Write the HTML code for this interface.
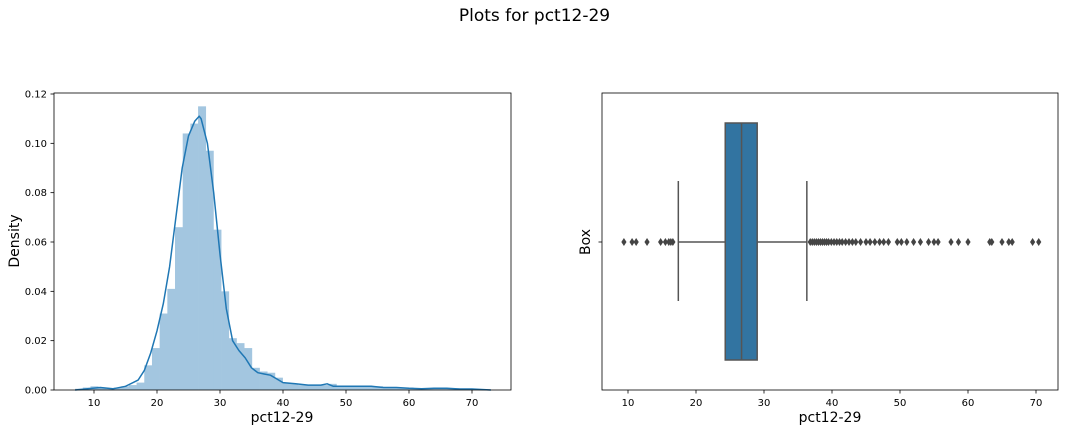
<!DOCTYPE html>
<html><head><meta charset="utf-8"><style>
body{margin:0;background:#fff;}
svg{display:block;font-family:"DejaVu Sans","Liberation Sans",sans-serif;}
</style></head><body>
<svg id="c" width="1069" height="432"></svg>
<script>
const histStart = 7.0, histWidth = 1.22;
const histValues = [0.0005,0.001,0.0015,0.001,0.0005,0.001,0.0015,0.002,0.003,0.010,0.017,0.031,0.041,0.066,0.104,0.108,0.115,0.097,0.065,0.040,0.021,0.019,0.017,0.009,0.0075,0.007,0.005,0.003,0.0025,0.002,0.002,0.002,0.002,0.0025,0.0015,0.0015,0.0015,0.0015,0.0015,0.0015,0.0012,0.001,0.001,0.001,0.0008,0.0005,0.0007,0.0007,0.0008,0.0007,0.0004,0.0004,0.0004,0.0003];
const kdeX = [7,9,11,13,15,17,18,19,20,21,22,23,24,25,26,26.7,27,28,29,30,31,32,33,34,35,36,37,38,39,40,42,44,46,47,48,50,52,54,56,58,60,62,64,66,68,70,73];
const kdeY = [0,0.0005,0.001,0.0005,0.0015,0.004,0.008,0.015,0.024,0.035,0.05,0.07,0.09,0.103,0.109,0.111,0.110,0.1,0.08,0.055,0.033,0.02,0.016,0.013,0.009,0.007,0.0065,0.006,0.0045,0.003,0.0025,0.002,0.002,0.0025,0.0015,0.0015,0.0015,0.0015,0.001,0.001,0.0007,0.0005,0.0007,0.0007,0.0004,0.0004,0];
const leftXTicks = [10,20,30,40,50,60,70];
const leftYTicks = [0,0.02,0.04,0.06,0.08,0.10,0.12];
const leftYLabels = ["0.00","0.02","0.04","0.06","0.08","0.10","0.12"];
const boxStats = [17.4, 24.3, 26.7, 29.0, 36.3];
const outliers = [9.4,10.6,11.2,12.8,14.8,15.5,16.0,16.3,16.6,36.8,37.1,37.4,37.7,38.0,38.3,38.6,38.9,39.2,39.5,39.9,40.3,40.7,41.1,41.5,42.0,42.5,43.0,43.5,44.2,45.0,45.6,46.3,47.0,47.6,48.3,49.6,50.2,51.0,52.0,53.0,54.2,55.0,55.6,57.5,58.6,60.0,63.2,63.5,65.0,66.0,66.5,69.5,70.4];
const rightXTicks = [10,20,30,40,50,60,70];

const svg = document.getElementById('c');
const NS = 'http://www.w3.org/2000/svg';
function mk(tag, attrs, parent){const e=document.createElementNS(NS,tag);for(const k in attrs)e.setAttribute(k,attrs[k]);(parent||svg).appendChild(e);return e;}

let t = mk('text',{x:534.5,y:21,'text-anchor':'middle','font-size':17,fill:'#000'});
t.textContent='Plots for pct12-29';



const L={x0:54,x1:511,y0:93,y1:390};
const lx = v => 31 + v*6.3;
const ly = v => 390 - v/0.12*296;
const gL = mk('g',{});


histValues.forEach((v,i)=>{
  const a=histStart+i*histWidth, b=a+histWidth;
  const r=mk('rect',{x:lx(a),y:ly(v),width:lx(b)-lx(a)+0.3,height:390-ly(v),fill:'#a3c6e0'},gL);
  
  
});
let d=kdeX.map((x,i)=>(i?'L':'M')+lx(x).toFixed(1)+','+ly(kdeY[i]).toFixed(1)).join(' ');
const kde=mk('path',{d:d,fill:'none',stroke:'#1f77b4','stroke-width':1.5,'stroke-linejoin':'round'},gL);


const fL=mk('rect',{x:L.x0,y:L.y0,width:L.x1-L.x0,height:L.y1-L.y0,fill:'none',stroke:'#000','stroke-width':0.8},gL);


leftXTicks.forEach(v=>{
  mk('line',{x1:lx(v),x2:lx(v),y1:390,y2:393.5,stroke:'#000','stroke-width':0.8},gL);
  const tt=mk('text',{x:lx(v),y:406,'text-anchor':'middle','font-size':10},gL);tt.textContent=v;
  
  
});
leftYTicks.forEach((v,i)=>{
  mk('line',{x1:50.5,x2:54,y1:ly(v),y2:ly(v),stroke:'#000','stroke-width':0.8},gL);
  const tt=mk('text',{x:47,y:ly(v)+3.5,'text-anchor':'end','font-size':10},gL);tt.textContent=leftYLabels[i];
  
  
});
t=mk('text',{x:282,y:422,'text-anchor':'middle','font-size':14},gL);t.textContent='pct12-29';


t=mk('text',{x:19,y:241,'text-anchor':'middle','font-size':14,transform:'rotate(-90 19 241)'},gL);t.textContent='Density';



const R={x0:602,x1:1058,y0:93,y1:390};
const rx = v => 560 + v*6.8;
const cy=242;
const gR=mk('g',{});


const gray='#444', lc='#555';
let e;
e=mk('line',{x1:rx(boxStats[0]),x2:rx(boxStats[1]),y1:cy,y2:cy,stroke:lc,'stroke-width':1.5},gR);

e=mk('line',{x1:rx(boxStats[3]),x2:rx(boxStats[4]),y1:cy,y2:cy,stroke:lc,'stroke-width':1.5},gR);

e=mk('line',{x1:rx(boxStats[0]),x2:rx(boxStats[0]),y1:181,y2:301,stroke:lc,'stroke-width':1.5},gR);

e=mk('line',{x1:rx(boxStats[4]),x2:rx(boxStats[4]),y1:181,y2:301,stroke:lc,'stroke-width':1.5},gR);

e=mk('rect',{x:rx(boxStats[1]),y:123,width:rx(boxStats[3])-rx(boxStats[1]),height:237,fill:'#3274a1',stroke:lc,'stroke-width':1.5},gR);

e=mk('line',{x1:rx(boxStats[2]),x2:rx(boxStats[2]),y1:123,y2:360,stroke:lc,'stroke-width':1.5},gR);

outliers.forEach(v=>{
  const x=rx(v);
  const p=mk('path',{d:`M${x},${cy-4} L${x+2.6},${cy} L${x},${cy+4} L${x-2.6},${cy} Z`,fill:gray},gR);
  
  
});
e=mk('rect',{x:R.x0,y:R.y0,width:R.x1-R.x0,height:R.y1-R.y0,fill:'none',stroke:'#000','stroke-width':0.8},gR);

rightXTicks.forEach(v=>{
  mk('line',{x1:rx(v),x2:rx(v),y1:390,y2:393.5,stroke:'#000','stroke-width':0.8},gR);
  const tt=mk('text',{x:rx(v),y:406,'text-anchor':'middle','font-size':10},gR);tt.textContent=v;
  
  
});
mk('line',{x1:598.5,x2:602,y1:cy,y2:cy,stroke:'#000','stroke-width':0.8},gR);
t=mk('text',{x:830,y:422,'text-anchor':'middle','font-size':14},gR);t.textContent='pct12-29';


t=mk('text',{x:590,y:242,'text-anchor':'middle','font-size':14,transform:'rotate(-90 590 242)'},gR);t.textContent='Box';


</script>
</body></html>
